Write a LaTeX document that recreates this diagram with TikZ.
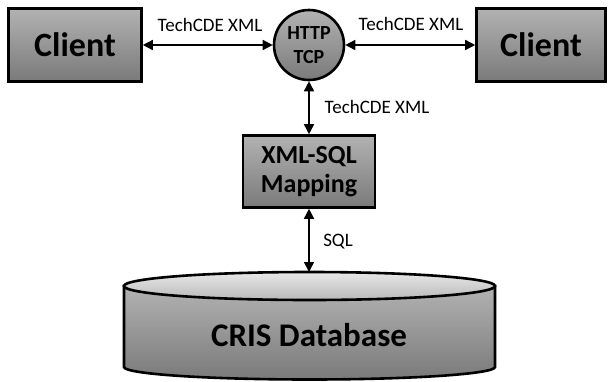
\documentclass[tikz,border=0pt]{standalone}
\usepackage{fontspec}
\setmainfont{Carlito}
\usetikzlibrary{arrows.meta}
\definecolor{boxtop}{RGB}{178,178,178}
\definecolor{boxbot}{RGB}{122,122,122}
\definecolor{captop}{RGB}{232,232,232}
\definecolor{capbot}{RGB}{185,185,185}
\begin{document}
\begin{tikzpicture}[x=1pt,y=-1pt,
  gbox/.style={draw=black,line width=2.6pt,top color=boxtop,bottom color=boxbot,inner sep=0pt},
  conn/.style={line width=1.6pt,{Triangle[length=10pt,width=10pt]}-{Triangle[length=10pt,width=10pt]}},
  lbl/.style={font=\fontsize{19}{22}\selectfont,inner sep=0pt}]
\useasboundingbox (0,0) rectangle (608,381);
\node[gbox,minimum width=133pt,minimum height=73pt,font=\fontsize{34}{36}\selectfont\bfseries] (cl) at (75,45) {Client};
\node[gbox,minimum width=129pt,minimum height=73pt,font=\fontsize{34}{36}\selectfont\bfseries] (cr) at (541,45) {Client};
\node[gbox,circle,minimum size=70pt,align=center,font=\fontsize{20}{24}\selectfont\bfseries] (http) at (309,45) {HTTP\\TCP};
\node[gbox,minimum width=132pt,minimum height=72pt,align=center,font=\fontsize{26}{29}\selectfont\bfseries] (map) at (309,171.5) {XML-SQL\\Mapping};
% database cylinder
\draw[line width=2.6pt,top color=boxtop,bottom color=boxbot] (124,286) -- (124,367) arc[start angle=180,end angle=360,x radius=185.5pt,y radius=12.5pt] -- (495,286) -- cycle;
\draw[line width=2.6pt,top color=captop,bottom color=capbot] (309.5,286) ellipse[x radius=185.5pt,y radius=14pt];
\coordinate (dbtop) at (309.5,272);
\node[font=\fontsize{33}{36}\selectfont\bfseries] (db) at (309,335) {CRIS Database};
% connectors
\draw[conn] (cl.east) -- (http.west);
\draw[conn] (http.east) -- (cr.west);
\draw[conn] (http.south) -- (http.south |- map.north);
\draw[conn] (http.south |- map.south) -- (http.south |- dbtop);
% labels
\node[lbl] (l1) at (210,25) {TechCDE XML};
\node[lbl] (l2) at (411,24) {TechCDE XML};
\node[lbl] (l3) at (377,107) {TechCDE XML};
\node[lbl] (l4) at (338,242) {SQL};
\end{tikzpicture}
\end{document}
